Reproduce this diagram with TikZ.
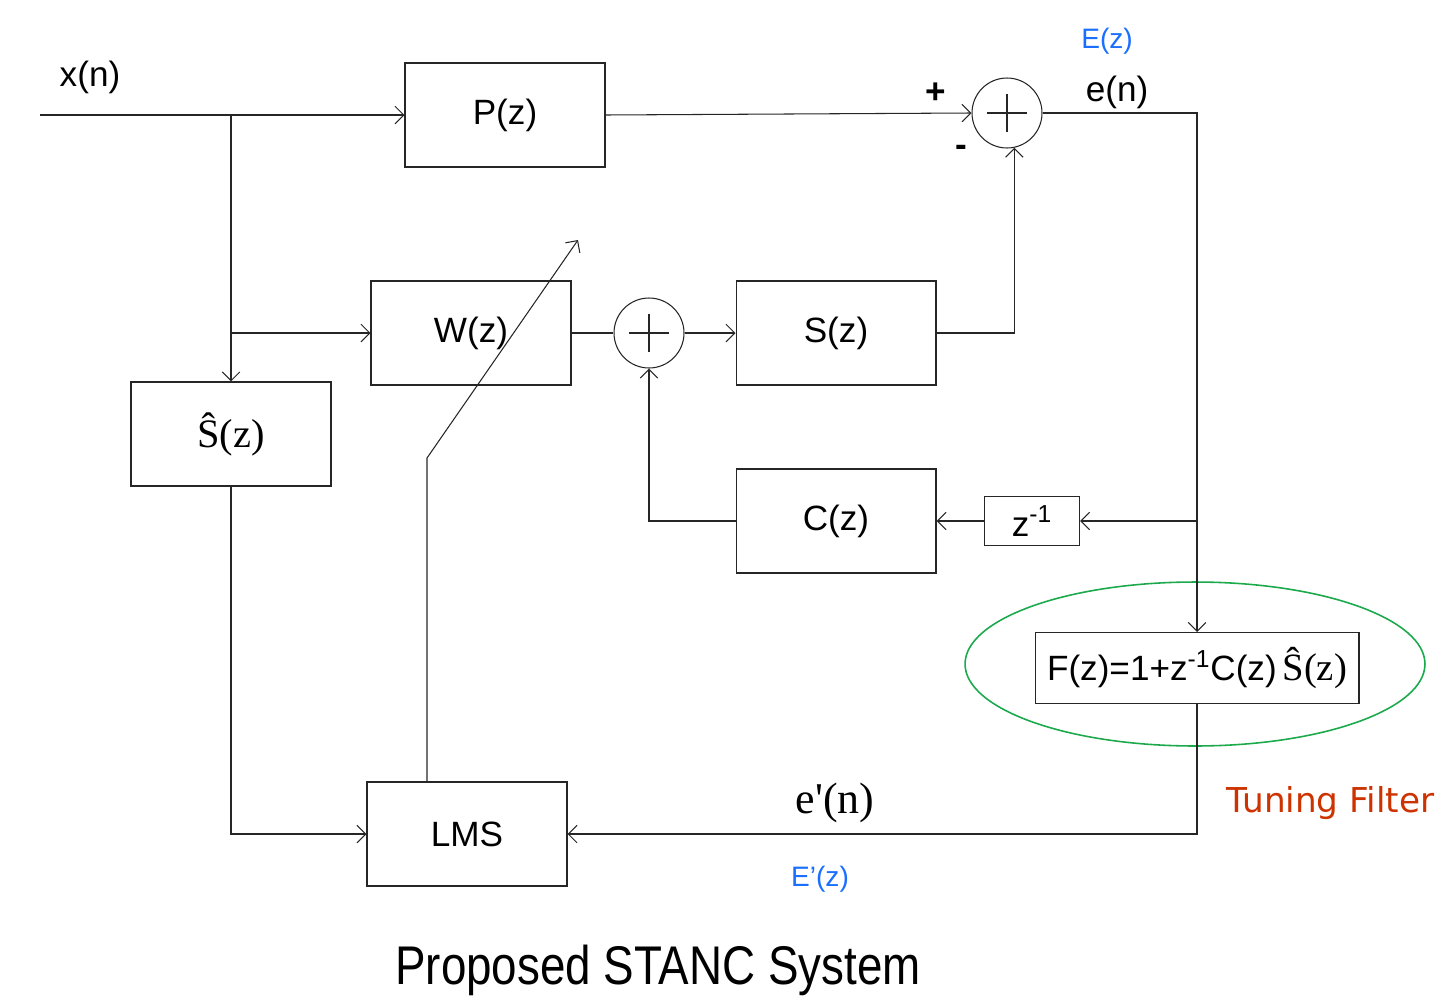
\documentclass[tikz,border=0pt]{standalone}
\usepackage{fontspec}
\setmainfont{Liberation Sans}
\newfontfamily\serifface{Liberation Serif}
\newfontfamily\tunefont{DejaVu Sans}
\usepackage{graphicx}
\usetikzlibrary{arrows.meta, positioning, shapes.geometric, calc}
\definecolor{sigBlue}{HTML}{1A6FFF}
\definecolor{ringGreen}{HTML}{1BA94C}
\definecolor{tuneRed}{HTML}{CC3300}

\begin{document}
\begin{tikzpicture}[
    x=0.02cm, y=-0.02cm,
    line width=0.6pt, draw=black!85,
    sig/.tip={Straight Barb[length=5pt, width=10pt, line width=0.6pt]},
    blockbox/.style={rectangle, draw, minimum width=4cm, minimum height=2.08cm,
                 font=\fontsize{20pt}{24pt}\selectfont, inner sep=0pt},
    sumnode/.style={circle, draw, minimum size=1.4cm, inner sep=0pt,
                 path picture={\draw (path picture bounding box.center) ++(-0.4cm,0) -- ++(0.8cm,0)
                   (path picture bounding box.center) ++(0,-0.38cm) -- ++(0,0.76cm);}},
    lbl/.style={font=\fontsize{20pt}{24pt}\selectfont, inner sep=0pt},
    zlbl/.style={font=\fontsize{16pt}{19pt}\selectfont, text=sigBlue, inner sep=0pt},
  ]
    \useasboundingbox (0,0) rectangle (1446,1004);

    % blocks
    \node[blockbox] (P) at (505,115) {P(z)};
    \node[blockbox] (W) at (471,333) {W(z)};
    \node[blockbox] (S) at (836,333) {S(z)};
    \node[blockbox] (C) at (836,521) {C(z)};
    \node[blockbox] (Shat) at (231,434) {\fontsize{23pt}{27pt}\serifface Ŝ(z)};
    \node[blockbox] (LMS) at (467,834) {LMS};
    \node[blockbox, minimum width=1.9cm, minimum height=0.98cm] (D) at (1032,521) {z\textsuperscript{-1}};
    \node[blockbox, minimum width=6.48cm, minimum height=1.42cm] (F) at (1197,668)
      {F(z)=1+z\textsuperscript{-1}C(z)\,{\fontsize{22pt}{26pt}\serifface Ŝ(z)}};
    \node[sumnode] (sum1) at (1007,113) {};
    \node[sumnode] (sum2) at (649,333) {};

    % tuning filter ring
    \draw[ringGreen, line width=0.9pt] (1195,664) ellipse [x radius=4.6cm, y radius=1.64cm];

    % signal paths
    \coordinate (xin) at (40,115);
    \coordinate (jx) at (231,115);
    \coordinate (bend) at (427,458);
    \coordinate (tip) at (578,240);
    \draw[-sig] (xin) -- (P.west);
    \draw[-sig] (jx) -- (Shat.north);
    \draw[-sig] (jx |- W.west) -- (W.west);
    \draw[-sig] (P.east) -- (sum1.west);
    \draw[-sig] (sum1.east) -| (F.north);
    \draw[-sig] (F.north |- D.east) -- (D.east);
    \draw[-sig] (D.west) -- (C.east);
    \draw[-sig] (C.west) -| (sum2.south);
    \draw (W.east) -- (sum2.west);
    \draw[-sig] (sum2.east) -- (S.west);
    \draw[-sig] (S.east) -| (sum1.-78);
    \draw[-sig] (Shat.south) |- (LMS.west);
    \draw[-sig] (F.south) |- (LMS.east);
    \draw[-sig] ([xshift=-0.8cm]LMS.north) -- (bend) -- (tip);

    % labels
    \node[lbl] (xn) at (90,77) {x(n)};
    \node[lbl] (en) at (1117,92) {e(n)};
    \node[zlbl] (Ez) at (1107,41) {E(z)};
    \node[lbl] (plus) at (936,93) {\textbf{+}};
    \node[lbl] (minus) at (961,151) {\textbf{-}};
    \node[lbl, font=\fontsize{25pt}{29pt}\serifface] (epn) at (835,803) {e'(n)};
    \node[zlbl] (Epz) at (820,879) {E'(z)};
    \node[font=\fontsize{19.5pt}{23pt}\tunefont, text=tuneRed, anchor=west, inner sep=0pt] (tune) at (1226,803) {Tuning Filter};
    \node[font=\fontsize{31pt}{36pt}\selectfont, inner sep=0pt] (title) at (658,970)
      {\scalebox{0.84}[1]{Proposed STANC System}};
  \end{tikzpicture}
\end{document}
